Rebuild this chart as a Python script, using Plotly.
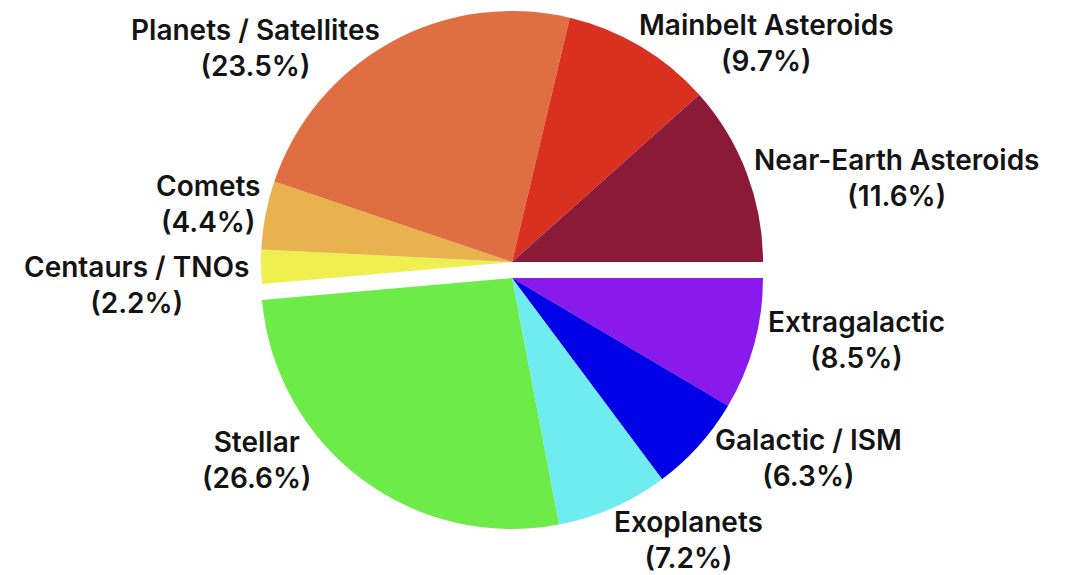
import math
import plotly.graph_objects as go

# ---- data ----
solar_labels = ["Near-Earth Asteroids", "Mainbelt Asteroids", "Planets / Satellites", "Comets", "Centaurs / TNOs"]
solar_values = [11.6, 9.7, 23.5, 4.4, 2.2]
solar_colors = ["#8A1A38", "#DA3020", "#E06E43", "#E8B24E", "#F0EF50"]

astro_labels = ["Stellar", "Exoplanets", "Galactic / ISM", "Extragalactic"]
astro_values = [26.6, 7.2, 6.3, 8.5]
astro_colors = ["#6DEB48", "#6EECEF", "#0000E6", "#8A19EB"]

# ---- layout constants ----
OFF = 8                      # page body margin in the browser
W, H = 1073 - OFF, 575 - OFF  # figure size so the page fits the window
R = 251
CX = 512 - OFF
CY_TOP, CY_BOT = 262 - OFF, 278 - OFF
LABEL_GAP = 10
# per-label nudges (px): dx, dy (screen, down positive)
nudges_top = [(-4, 9), (-9, 5), (-4, 14), (6, -9), (0, 18)]
nudges_bot = [(-41, -26), (-5, 23), (7, 6), (2, -7)]

TRANSP = "rgba(0,0,0,0)"
solar_total = sum(solar_values)
astro_total = sum(astro_values)


def domain(cy):
    return dict(x=[(CX - R) / W, (CX + R) / W], y=[1 - (cy + R) / H, 1 - (cy - R) / H])


fig = go.Figure()
# clockwise from 3 o'clock: hidden part first, then solar-system slices reversed,
# so Near-Earth Asteroids ends at 3 o'clock (counterclockwise order from 0 deg)
fig.add_trace(go.Pie(
    values=[astro_total] + solar_values[::-1],
    labels=["_hidden_a"] + solar_labels[::-1],
    marker=dict(colors=[TRANSP] + solar_colors[::-1], line=dict(width=0)),
    sort=False, direction="clockwise", rotation=90,
    textinfo="none", hoverinfo="skip", showlegend=False,
    domain=domain(CY_TOP),
))
fig.add_trace(go.Pie(
    values=astro_values[::-1] + [solar_total],
    labels=astro_labels[::-1] + ["_hidden_b"],
    marker=dict(colors=astro_colors[::-1] + [TRANSP], line=dict(width=0)),
    sort=False, direction="clockwise", rotation=90,
    textinfo="none", hoverinfo="skip", showlegend=False,
    domain=domain(CY_BOT),
))

annotations = []


def add_labels(labels, values, start_pct, cy, nudges):
    cum = start_pct
    for lab, v, (dx, dy) in zip(labels, values, nudges):
        mid = (cum + v / 2) / 100 * 2 * math.pi
        cum += v
        c, s = math.cos(mid), math.sin(mid)
        px = CX + (R + LABEL_GAP) * c
        py = cy - (R + LABEL_GAP) * s
        xa = "left" if c > 0 else "right"
        annotations.append(dict(
            x=px / W, y=1 - py / H, xref="paper", yref="paper",
            xanchor=xa, yanchor="middle", align="center",
            xshift=dx, yshift=-dy, showarrow=False,
            text=f"{lab}<br>({v:.1f}%)",
            font=dict(family="Inter", size=28, color="#141414", weight=600),
        ))


add_labels(solar_labels, solar_values, 0.0, CY_TOP, nudges_top)
add_labels(astro_labels, astro_values, solar_total, CY_BOT, nudges_bot)

fig.update_layout(
    width=W, height=H,
    margin=dict(l=0, r=0, t=0, b=0),
    paper_bgcolor="white", plot_bgcolor="white",
    showlegend=False,
    annotations=annotations,
)

fig.write_html("out.html")
